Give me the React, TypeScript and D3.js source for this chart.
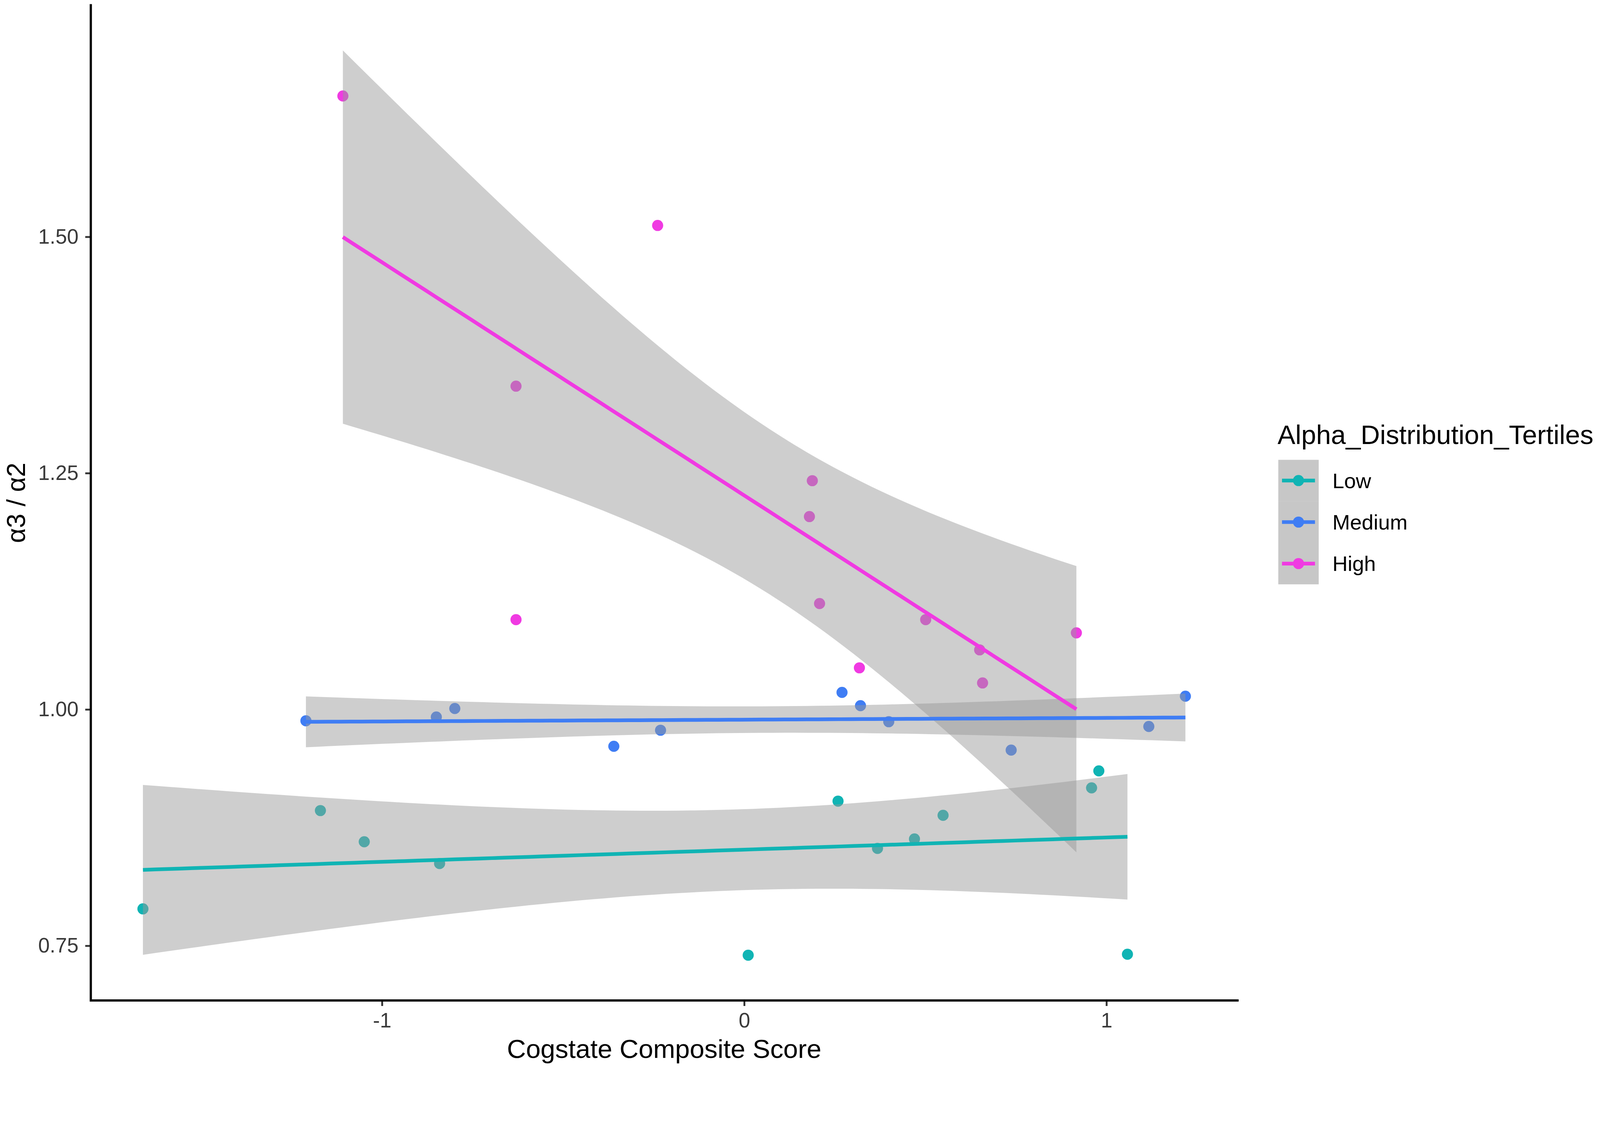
import { useEffect, useRef } from "react";
import * as d3 from "d3";

// Cogstate composite score (x) and alpha3/alpha2 ratio (y), by tertile
const lowX = [-1.66, -1.17, -1.049, -0.841, 0.011, 0.259, 0.368, 0.47, 0.549, 0.979, 0.959, 1.058];
const lowY = [0.789, 0.893, 0.86, 0.837, 0.74, 0.903, 0.853, 0.863, 0.888, 0.935, 0.917, 0.741];

const mediumX = [-1.21, -0.85, -0.799, -0.36, -0.231, 0.27, 0.321, 0.399, 0.737, 1.117, 1.218];
const mediumY = [0.988, 0.992, 1.001, 0.961, 0.978, 1.018, 1.004, 0.987, 0.957, 0.982, 1.014];

const highX = [-1.108, -0.239, -0.63, -0.63, 0.188, 0.18, 0.208, 0.318, 0.501, 0.65, 0.658, 0.917];
const highY = [1.649, 1.512, 1.342, 1.095, 1.242, 1.204, 1.112, 1.044, 1.095, 1.063, 1.028, 1.081];

const groupNames = ["Low", "Medium", "High"];
const groupColors = ["#10B4B4", "#3F7DF4", "#F03AE2"];
const xTicks = [-1, 0, 1];
const yTicks = [0.75, 1.0, 1.25, 1.5];

const legendTitle = "Alpha_Distribution_Tertiles";
const xTitle = "Cogstate Composite Score";
const yTitle = "α3 / α2";

interface Pt {
  x: number;
  y: number;
}
interface Band {
  x: number;
  fit: number;
  lo: number;
  hi: number;
}

// 97.5% quantile of Student t (Cornish-Fisher expansion)
function tCrit(df: number): number {
  const z = 1.959964;
  const g1 = (z ** 3 + z) / 4;
  const g2 = (5 * z ** 5 + 16 * z ** 3 + 3 * z) / 96;
  const g3 = (3 * z ** 7 + 19 * z ** 5 + 17 * z ** 3 - 15 * z) / 384;
  const g4 = (79 * z ** 9 + 776 * z ** 7 + 1482 * z ** 5 - 1920 * z ** 3 - 945 * z) / 92160;
  return z + g1 / df + g2 / df ** 2 + g3 / df ** 3 + g4 / df ** 4;
}

// linear model with 95% confidence band, like geom_smooth(method = "lm")
function lmBand(pts: Pt[]): Band[] {
  const n = pts.length;
  const mx = d3.mean(pts, (d) => d.x)!;
  const my = d3.mean(pts, (d) => d.y)!;
  const sxx = d3.sum(pts, (d) => (d.x - mx) ** 2);
  const sxy = d3.sum(pts, (d) => (d.x - mx) * (d.y - my));
  const b = sxy / sxx;
  const a = my - b * mx;
  const sse = d3.sum(pts, (d) => (d.y - a - b * d.x) ** 2);
  const s = Math.sqrt(sse / (n - 2));
  const t = tCrit(n - 2);
  const [x0, x1] = d3.extent(pts, (d) => d.x) as [number, number];
  return d3.range(80).map((i) => {
    const x = x0 + ((x1 - x0) * i) / 79;
    const fit = a + b * x;
    const se = s * Math.sqrt(1 / n + (x - mx) ** 2 / sxx);
    return { x, fit, lo: fit - t * se, hi: fit + t * se };
  });
}

const W = 4317;
const H = 2891;

export default function App() {
  const svgRef = useRef<SVGSVGElement | null>(null);

  useEffect(() => {
    if (!svgRef.current) return;

    const panel = { left: 245, right: 3339, top: 14, bottom: 2700 };
    const font = "'Liberation Sans', Arial, sans-serif";

    const groups = [
      { name: groupNames[0], color: groupColors[0], pts: lowX.map((x, i) => ({ x, y: lowY[i] })) },
      { name: groupNames[1], color: groupColors[1], pts: mediumX.map((x, i) => ({ x, y: mediumY[i] })) },
      { name: groupNames[2], color: groupColors[2], pts: highX.map((x, i) => ({ x, y: highY[i] })) },
    ].map((g) => ({ ...g, band: lmBand(g.pts) }));

    // ggplot-style 5% expansion over all layers
    const allX = groups.flatMap((g) => g.pts.map((p) => p.x));
    const allY = groups.flatMap((g) => [
      ...g.pts.map((p) => p.y),
      ...g.band.map((d) => d.lo),
      ...g.band.map((d) => d.hi),
    ]);
    const [xmin, xmax] = d3.extent(allX) as [number, number];
    const [ymin, ymax] = d3.extent(allY) as [number, number];
    const xe = (xmax - xmin) * 0.05;
    const ye = (ymax - ymin) * 0.05;

    const x = d3.scaleLinear().domain([xmin - xe, xmax + xe]).range([panel.left, panel.right]);
    const y = d3.scaleLinear().domain([ymin - ye, ymax + ye]).range([panel.bottom, panel.top]);

    const svg = d3.select(svgRef.current);
    svg.selectAll("*").remove();
    svg.append("rect").attr("width", W).attr("height", H).attr("fill", "#ffffff");

    const plot = svg.append("g");

    // points
    groups.forEach((g) => {
      plot
        .selectAll(null)
        .data(g.pts)
        .enter()
        .append("circle")
        .attr("cx", (d) => x(d.x))
        .attr("cy", (d) => y(d.y))
        .attr("r", 15)
        .attr("fill", g.color);
    });

    // confidence ribbons (over points), then fitted lines
    const area = d3
      .area<Band>()
      .x((d) => x(d.x))
      .y0((d) => y(d.lo))
      .y1((d) => y(d.hi));
    groups.forEach((g) => {
      plot
        .append("path")
        .datum(g.band)
        .attr("d", area)
        .attr("fill", "#999999")
        .attr("fill-opacity", 0.48);
    });
    const line = d3
      .line<Band>()
      .x((d) => x(d.x))
      .y((d) => y(d.fit));
    groups.forEach((g) => {
      plot
        .append("path")
        .datum(g.band)
        .attr("d", line)
        .attr("fill", "none")
        .attr("stroke", g.color)
        .attr("stroke-width", 10);
    });

    // axes
    const xAxis = svg
      .append("g")
      .attr("transform", `translate(0,${panel.bottom})`)
      .call(d3.axisBottom(x).tickValues(xTicks).tickFormat(d3.format("d")).tickSize(15).tickPadding(18));
    const yAxis = svg
      .append("g")
      .attr("transform", `translate(${panel.left},0)`)
      .call(d3.axisLeft(y).tickValues(yTicks).tickFormat(d3.format(".2f")).tickSize(15).tickPadding(18));

    [xAxis, yAxis].forEach((ax) => {
      ax.select(".domain").remove();
      ax.selectAll(".tick line").attr("stroke", "#333333").attr("stroke-width", 5);
      ax.selectAll(".tick text")
        .attr("fill", "#3a3a3a")
        .style("font-family", font)
        .style("font-size", "56px");
    });
    // ggplot prints a hyphen, not the unicode minus
    xAxis.selectAll<SVGTextElement, number>(".tick text").text((d) => String(d));

    svg
      .append("path")
      .attr("d", `M${panel.left},${panel.top}V${panel.bottom}H${panel.right}`)
      .attr("fill", "none")
      .attr("stroke", "#000000")
      .attr("stroke-width", 6)
      .attr("stroke-linecap", "square");

    svg
      .append("text")
      .text(xTitle)
      .attr("x", (panel.left + panel.right) / 2)
      .attr("y", 2855)
      .attr("text-anchor", "middle")
      .style("font-family", font)
      .style("font-size", "71px");

    svg
      .append("text")
      .text(yTitle)
      .attr("transform", `translate(67,${(panel.top + panel.bottom) / 2}) rotate(-90)`)
      .attr("text-anchor", "middle")
      .style("font-family", font)
      .style("font-size", "70px");

    // legend
    const lg = svg.append("g").attr("transform", "translate(3449,0)");
    lg.append("text")
      .text(legendTitle)
      .attr("x", -2)
      .attr("y", 1198)
      .style("font-family", font)
      .style("font-size", "72px");

    const keyH = 112;
    const keyTop = 1241;
    groups.forEach((g, i) => {
      const cy = keyTop + keyH * i + keyH / 2;
      lg.append("rect")
        .attr("x", 0)
        .attr("y", keyTop + keyH * i)
        .attr("width", 109)
        .attr("height", keyH)
        .attr("fill", "#999999")
        .attr("fill-opacity", 0.55);
      lg.append("line")
        .attr("x1", 10)
        .attr("x2", 99)
        .attr("y1", cy)
        .attr("y2", cy)
        .attr("stroke", g.color)
        .attr("stroke-width", 10);
      lg.append("circle").attr("cx", 54.5).attr("cy", cy).attr("r", 15).attr("fill", g.color);
      lg.append("text")
        .text(g.name)
        .attr("x", 146)
        .attr("y", cy + 20)
        .style("font-family", font)
        .style("font-size", "57px");
    });
  }, []);

  return (
    <svg
      ref={svgRef}
      viewBox={`0 0 ${W} ${H}`}
      preserveAspectRatio="xMinYMin meet"
      style={{ position: "fixed", left: 0, top: 0, width: "100vw", height: "100vh", display: "block" }}
    />
  );
}
